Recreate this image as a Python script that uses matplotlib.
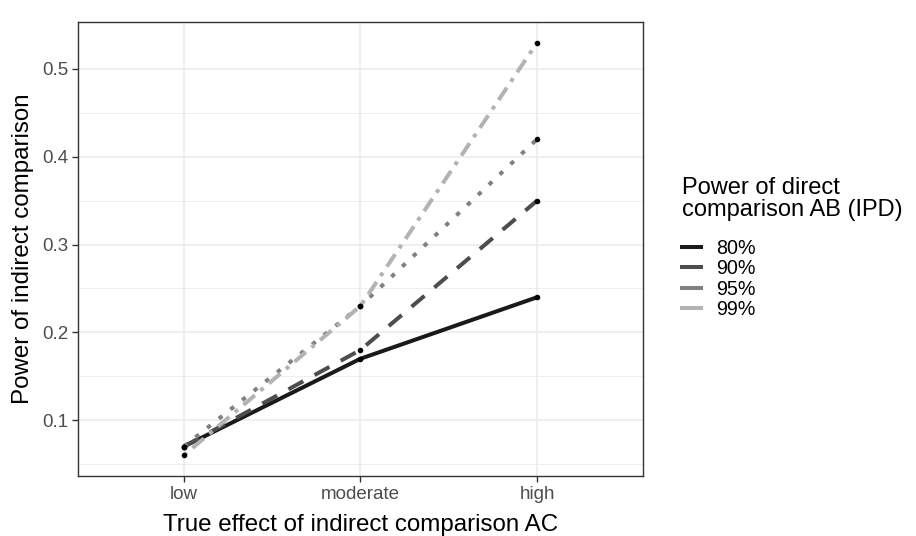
import numpy as np
import matplotlib.pyplot as plt
from matplotlib.lines import Line2D

plt.rcParams['font.family'] = ['Liberation Sans', 'DejaVu Sans']

effects = ["low", "moderate", "high"]
groups = ["80%", "90%", "95%", "99%"]
power = {
    "80%": [0.07, 0.17, 0.24],
    "90%": [0.07, 0.18, 0.35],
    "95%": [0.07, 0.23, 0.42],
    "99%": [0.06, 0.23, 0.53],
}
colors = {"80%": "#1a1a1a", "90%": "#4d4d4d", "95%": "#808080", "99%": "#b3b3b3"}
styles = {
    "80%": "-",
    "90%": (0, (4.2, 3.2)),
    "95%": (0, (1.1, 2.6)),
    "99%": (0, (1.0, 1.8, 3.7, 1.8)),
}

fig = plt.figure(figsize=(9.16, 5.36), dpi=100)
ax = fig.add_axes([0.085, 0.112, 0.617, 0.847])

x = np.arange(len(effects))
for g in groups:
    ax.plot(x, power[g], color=colors[g], linestyle=styles[g], lw=2.9,
            solid_capstyle="butt", dash_capstyle="butt", zorder=3)
    ax.scatter(x, power[g], s=9, color="black", zorder=4)

ax.set_xlim(-0.6, 2.6)
ax.set_ylim(0.0365, 0.5535)
ax.set_xticks(x)
ax.set_xticklabels(effects)
ax.set_yticks([0.1, 0.2, 0.3, 0.4, 0.5])
ax.set_yticks([0.05, 0.15, 0.25, 0.35, 0.45], minor=True)
ax.grid(True, which="major", color="#ebebeb", lw=1.1, zorder=0)
ax.grid(True, which="minor", axis="y", color="#ebebeb", lw=0.6, zorder=0)
ax.set_axisbelow(True)
for s in ax.spines.values():
    s.set_color("#333333")
    s.set_linewidth(1.0)
ax.tick_params(axis="both", which="major", labelsize=13.5, labelcolor="#4d4d4d",
               color="#333333", length=4, width=1, pad=3)
ax.tick_params(axis="both", which="minor", length=0)

ax.set_xlabel("True effect of indirect comparison AC", fontsize=17.4, labelpad=8)
ax.set_ylabel("Power of indirect comparison", fontsize=17.4, labelpad=6)

# titolo legenda separato per avere lo spazio come in ggplot
fig.text(0.744, 1 - 177 / 536, "Power of direct\ncomparison AB (IPD)",
         fontsize=17, va="top", ha="left", linespacing=1.0)

handles = [Line2D([0], [0], color=colors[g], lw=2.9) for g in groups]
leg = fig.legend(handles, groups, loc="upper left",
                 bbox_to_anchor=(0.744, 1 - 239 / 536), frameon=False,
                 fontsize=14.2, handlelength=1.0, labelspacing=0.07,
                 handletextpad=0.75, borderaxespad=0, borderpad=0)

fig.savefig("out.png", dpi=100)
